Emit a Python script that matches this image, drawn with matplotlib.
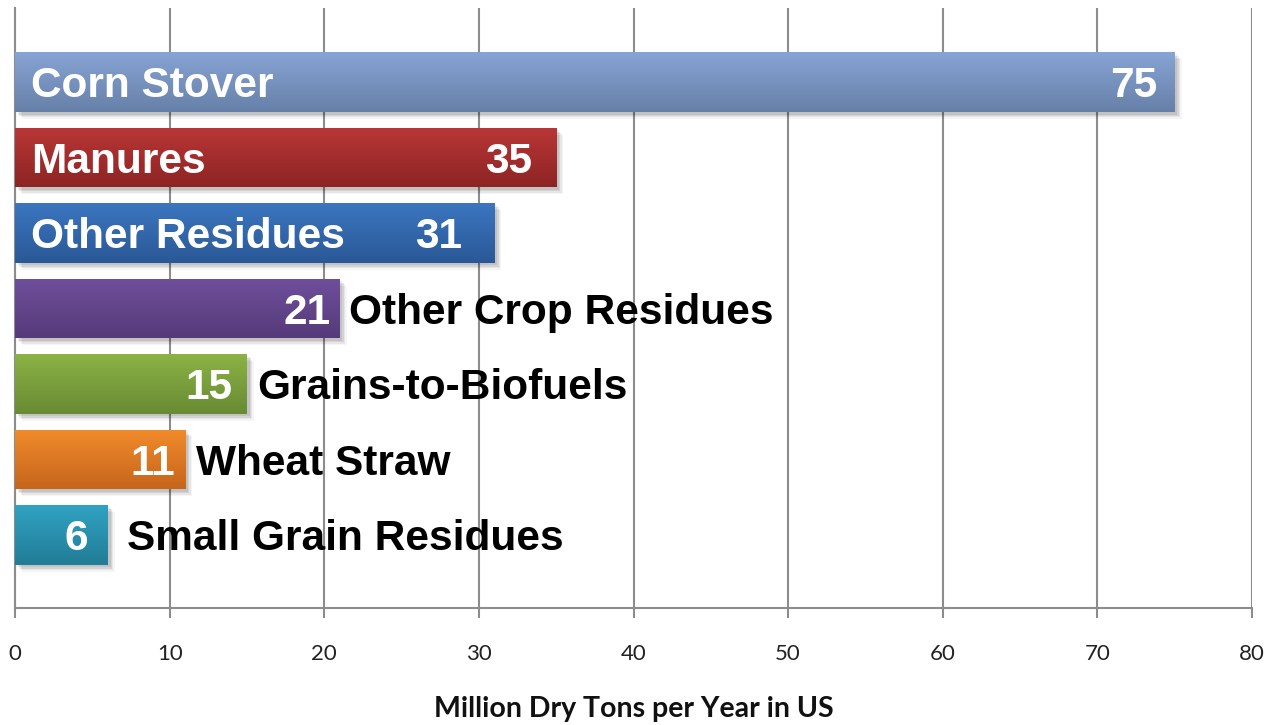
import numpy as np
import matplotlib
matplotlib.use("Agg")
import matplotlib.pyplot as plt
from matplotlib import patheffects
from matplotlib.colors import LinearSegmentedColormap
from matplotlib.transforms import offset_copy

# Biomass feedstock sources, million dry tons per year
categories = ["Corn Stover", "Manures", "Other Residues", "Other Crop Residues",
              "Grains-to-Biofuels", "Wheat Straw", "Small Grain Residues"]
values = [75, 35, 31, 21, 15, 11, 6]
xticks = [0, 10, 20, 30, 40, 50, 60, 70, 80]

# gradient colours per bar (top, bottom)
top_colors = ["#88a4d5", "#ba3636", "#3b76c0", "#6f4f9b", "#8bb345", "#f18b2b", "#31a3c3"]
bottom_colors = ["#6680a8", "#8d2424", "#2a5896", "#553a7a", "#688a33", "#c6651c", "#217c96"]
# category name drawn inside the bar (True) or just past its end (False)
name_inside = [True, True, True, False, False, False, False]
# horizontal offsets in pixels for the value and outside name labels
value_pad = [17, 24, 32, 9, 15, 10, 20]
name_pad = [0, 0, 0, 9, 10, 11, 19]

W, H = 1279, 725
fig = plt.figure(figsize=(W / 100, H / 100), dpi=100)
ax = fig.add_axes([15 / W, 117 / H, (1252 - 15) / W, 600 / H])

ypos = np.arange(len(categories))
bar_h = 0.79
bars = ax.barh(ypos, values, height=bar_h, color=top_colors, zorder=3)

ax.set_xlim(0, 80)
ax.set_ylim(6.97, -0.98)

# soft drop shadow below/right of each bar
shadow = [patheffects.SimplePatchShadow(offset=(o, -o), shadow_rgbFace="#000000", alpha=a)
          for o, a in [(5, 0.04), (4, 0.06), (3, 0.08), (2, 0.08)]]
for b in bars:
    b.set_path_effects(shadow + [patheffects.Normal()])

# vertical gradient fill clipped to each bar
grad = np.linspace(0, 1, 256).reshape(-1, 1)
for b, c0, c1 in zip(bars, top_colors, bottom_colors):
    cmap = LinearSegmentedColormap.from_list("g", [c0, c1])
    x0, y0 = b.get_x(), b.get_y()
    w, h = b.get_width(), b.get_height()
    im = ax.imshow(grad, cmap=cmap, aspect="auto", extent=(x0, x0 + w, y0 + h, y0),
                   origin="upper", zorder=4, interpolation="bilinear")
    im.set_clip_path(b)

ax.set_xlim(0, 80)
ax.set_ylim(6.97, -0.98)

label_font = dict(family="Liberation Sans", fontweight="bold", fontsize=30.5)
for i, (name, v) in enumerate(zip(categories, values)):
    tv = offset_copy(ax.transData, fig=fig, x=-value_pad[i], y=0, units="dots")
    ax.text(v, i, str(v), transform=tv, ha="right", va="center_baseline",
            color="white", zorder=6, **label_font)
    if name_inside[i]:
        tn = offset_copy(ax.transData, fig=fig, x=16, y=0, units="dots")
        ax.text(0, i, name, transform=tn, ha="left", va="center_baseline",
                color="white", zorder=6, **label_font)
    else:
        tn = offset_copy(ax.transData, fig=fig, x=name_pad[i], y=0, units="dots")
        ax.text(v, i, name, transform=tn, ha="left", va="center_baseline",
                color="black", zorder=6, **label_font)

# axes styling
ax.set_xticks(xticks)
ax.set_xticklabels([str(t) for t in xticks], family="Lato", fontsize=16, color="#222222")
ax.set_yticks([])
ax.grid(axis="x", color="#8c8c8c", linewidth=1.5, zorder=0)
for s in ["top", "right"]:
    ax.spines[s].set_visible(False)
for s in ["left", "bottom"]:
    ax.spines[s].set_color("#8c8c8c")
    ax.spines[s].set_linewidth(1.5)
ax.tick_params(axis="x", direction="out", length=7, width=1.5, color="#8c8c8c", pad=19)
ax.set_xlabel("Million Dry Tons per Year in US", family="Lato", fontweight="bold",
              fontsize=20.5, color="#111111", labelpad=23)

fig.savefig("out.png", dpi=100)
